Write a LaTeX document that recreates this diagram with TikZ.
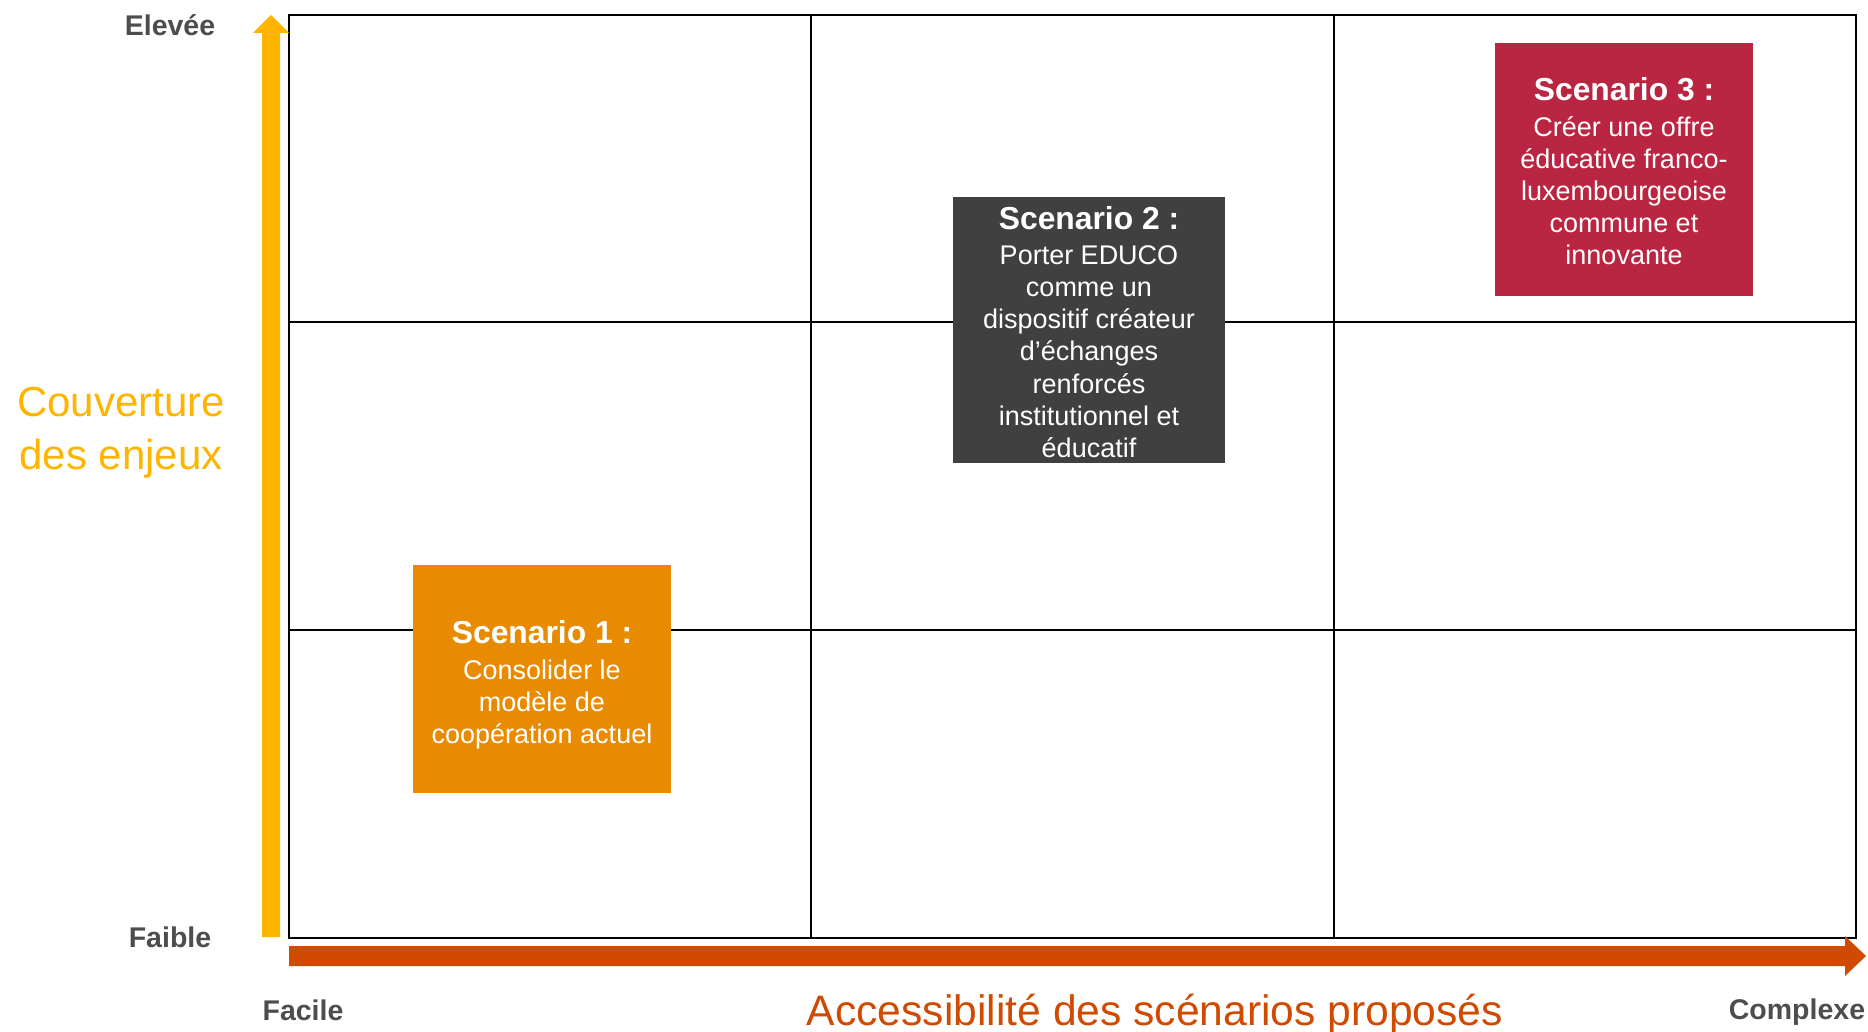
\documentclass[tikz,border=0pt]{standalone}
\usepackage{fontspec}
\setmainfont{Liberation Sans}
\definecolor{ylw}{HTML}{FFB400}
\definecolor{org}{HTML}{D04A02}
\definecolor{sone}{HTML}{E98B00}
\definecolor{stwo}{HTML}{404040}
\definecolor{sthree}{HTML}{BA2641}
\definecolor{lbl}{HTML}{4D4D4D}
\newcommand{\scnttl}{\fontsize{31.8}{32}\selectfont\bfseries}
\begin{document}
\begin{tikzpicture}[x=1pt,y=-1pt,
  scen/.style={fill=#1, draw=none, inner sep=0pt},
  scentext/.style={text=white, inner sep=0pt, align=center,
    font=\fontsize{27}{32.2}\selectfont},
  axlbl/.style={text=lbl, font=\fontsize{28.5}{32}\selectfont\bfseries, inner sep=0pt, anchor=base},
  grid/.style={draw=black, line width=2.2pt}]
\useasboundingbox (0,0) rectangle (1868,1032);
% grid
\draw[grid] (289,15) rectangle (1856,938);
\draw[grid] (811,15) -- (811,938);
\draw[grid] (1334,15) -- (1334,938);
\draw[grid] (289,322) -- (1856,322);
\draw[grid] (289,630) -- (1856,630);
% axes arrows
\fill[ylw] (262,937) -- (262,33) -- (253,33) -- (271,15) -- (289,33) -- (280,33) -- (280,937) -- cycle;
\fill[org] (289,946) -- (1845,946) -- (1845,936) -- (1866,956) -- (1845,976) -- (1845,966) -- (289,966) -- cycle;
% axis labels
\node[axlbl] (hi) at (170,36) {Elevée};
\node[axlbl] (lo) at (170,947) {Faible};
\node[axlbl] (easy) at (303,1020) {Facile};
\node[axlbl] (hard) at (1797,1019) {Complexe};
\node[text=ylw, align=center, inner sep=0pt, font=\fontsize{42}{53}\selectfont] (yax) at (121,433) {Couverture\\des enjeux};
\node[text=org, inner sep=0pt, anchor=base, font=\fontsize{42.6}{50}\selectfont] (xax) at (1155,1025) {Accessibilité des scénarios proposés};
% scenarios
\node[scen=sone, minimum width=258pt, minimum height=228pt] (s1) at (542,679) {};
\node[scentext, yshift=-6pt] (s1t) at (s1.center)
  {{\scnttl Scenario 1 :}\\[3pt]Consolider le\\modèle de\\coopération actuel};
\node[scen=stwo, minimum width=272pt, minimum height=266pt] (s2) at (1089,330) {};
\node[scentext, yshift=-2pt] (s2t) at (s2.center)
  {{\scnttl Scenario 2 :}\\[3pt]Porter EDUCO\\comme un\\dispositif créateur\\d’échanges\\renforcés\\institutionnel et\\éducatif};
\node[scen=sthree, minimum width=258pt, minimum height=253pt] (s3) at (1624,169.5) {};
\node[scentext, yshift=-2pt] (s3t) at (s3.center)
  {{\scnttl Scenario 3 :}\\[3pt]Créer une offre\\éducative franco-\\luxembourgeoise\\commune et\\innovante};
\end{tikzpicture}
\end{document}
